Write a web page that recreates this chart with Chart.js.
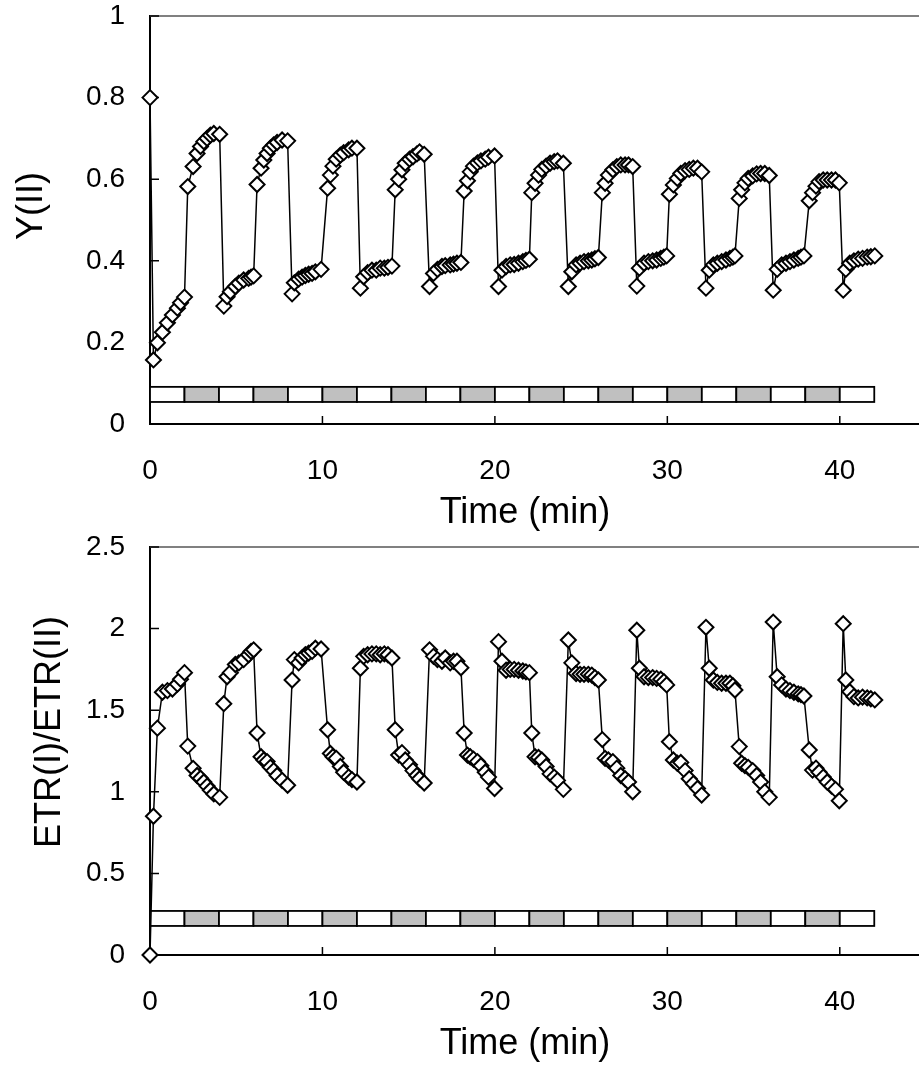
<!DOCTYPE html>
<html>
<head>
<meta charset="utf-8">
<script src="https://cdn.jsdelivr.net/npm/chart.js@4.4.1/dist/chart.umd.min.js"></script>
<style>
  html, body { margin: 0; padding: 0; background: #fff; overflow: hidden; }
  #wrap { position: relative; width: 919px; height: 1070px; overflow: hidden; }
  canvas { position: absolute; left: 0; }
  #yiiChart { top: 0; }
  #ratioChart { top: 533px; }
</style>
</head>
<body>
<div id="wrap">
  <canvas id="yiiChart" width="940" height="533"></canvas>
  <canvas id="ratioChart" width="940" height="537"></canvas>
</div>
<script>
// sampling times (min), one row per 2-min light period
const timeMin = [
  0, 0.2, 0.43, 0.72, 1.01, 1.3, 1.59, 1.77, 2.0,
  2.19, 2.5, 2.73, 2.93, 3.12, 3.31, 3.5, 3.7, 4.04,
  4.28, 4.47, 4.66, 4.95, 5.15, 5.43, 5.72, 5.86, 6.01,
  6.21, 6.44, 6.6, 6.79, 6.98, 7.17, 7.37, 7.66, 7.98,
  8.24, 8.37, 8.62, 8.82, 9.01, 9.2, 9.4, 9.59, 9.92,
  10.3, 10.46, 10.61, 10.8, 11.04, 11.23, 11.52, 11.71, 12.0,
  12.2, 12.39, 12.62, 12.87, 13.12, 13.35, 13.59, 13.8, 14.03,
  14.22, 14.42, 14.61, 14.8, 15.05, 15.25, 15.48, 15.63, 15.9,
  16.21, 16.44, 16.67, 16.93, 17.12, 17.41, 17.6, 17.8, 18.03,
  18.22, 18.41, 18.57, 18.76, 18.99, 19.19, 19.44, 19.63, 19.98,
  20.21, 20.41, 20.65, 20.89, 21.12, 21.37, 21.62, 21.8, 22.0,
  22.14, 22.33, 22.53, 22.72, 22.97, 23.2, 23.44, 23.63, 23.97,
  24.26, 24.46, 24.71, 24.94, 25.17, 25.42, 25.62, 25.8, 26.0,
  26.23, 26.39, 26.58, 26.84, 27.07, 27.3, 27.55, 27.75, 27.99,
  28.23, 28.38, 28.65, 28.9, 29.15, 29.38, 29.62, 29.8, 29.96,
  30.12, 30.35, 30.58, 30.78, 31.03, 31.27, 31.51, 31.75, 31.99,
  32.24, 32.43, 32.67, 32.9, 33.15, 33.4, 33.63, 33.8, 33.92,
  34.17, 34.31, 34.5, 34.69, 34.95, 35.18, 35.41, 35.65, 35.91,
  36.14, 36.37, 36.63, 36.88, 37.11, 37.34, 37.59, 37.75, 37.92,
  38.23, 38.42, 38.62, 38.8, 39.04, 39.27, 39.52, 39.75, 39.97,
  40.2, 40.35, 40.58, 40.82, 41.07, 41.32, 41.59, 41.8, 42.03
];

// effective quantum yield of PSII
const yII = [
  0.8, 0.157, 0.199, 0.225, 0.248, 0.267, 0.284, 0.297, 0.311,
  0.582, 0.631, 0.663, 0.68, 0.692, 0.70, 0.708, 0.712, 0.71,
  0.289, 0.312, 0.324, 0.337, 0.345, 0.353, 0.357, 0.36, 0.363,
  0.587, 0.627, 0.647, 0.663, 0.676, 0.684, 0.69, 0.696, 0.694,
  0.319, 0.346, 0.355, 0.36, 0.364, 0.367, 0.369, 0.373, 0.379,
  0.578, 0.61, 0.632, 0.649, 0.659, 0.665, 0.672, 0.676, 0.676,
  0.333, 0.361, 0.371, 0.377, 0.377, 0.382, 0.382, 0.384, 0.387,
  0.574, 0.6, 0.623, 0.639, 0.649, 0.655, 0.662, 0.667, 0.661,
  0.337, 0.369, 0.379, 0.386, 0.388, 0.39, 0.392, 0.394, 0.396,
  0.571, 0.596, 0.618, 0.632, 0.64, 0.645, 0.649, 0.654, 0.657,
  0.337, 0.377, 0.386, 0.39, 0.391, 0.394, 0.398, 0.401, 0.404,
  0.567, 0.59, 0.61, 0.624, 0.632, 0.639, 0.643, 0.645, 0.639,
  0.337, 0.373, 0.39, 0.394, 0.398, 0.4, 0.402, 0.405, 0.408,
  0.567, 0.59, 0.61, 0.623, 0.631, 0.635, 0.635, 0.635, 0.631,
  0.338, 0.382, 0.394, 0.398, 0.4, 0.402, 0.406, 0.409, 0.412,
  0.563, 0.586, 0.602, 0.614, 0.621, 0.624, 0.627, 0.627, 0.618,
  0.333, 0.377, 0.39, 0.394, 0.398, 0.402, 0.406, 0.409, 0.412,
  0.553, 0.574, 0.591, 0.602, 0.608, 0.613, 0.614, 0.614, 0.609,
  0.328, 0.379, 0.39, 0.394, 0.398, 0.402, 0.406, 0.409, 0.412,
  0.547, 0.567, 0.583, 0.594, 0.598, 0.598, 0.598, 0.598, 0.591,
  0.328, 0.379, 0.394, 0.4, 0.404, 0.406, 0.409, 0.41, 0.412
];

// ETR(I)/ETR(II) ratio
const etrRatio = [
  0, 0.85, 1.39, 1.61, 1.62, 1.63, 1.66, 1.69, 1.73,
  1.28, 1.144, 1.10, 1.083, 1.06, 1.035, 1.01, 0.987, 0.966,
  1.54, 1.705, 1.73, 1.78, 1.79, 1.81, 1.84, 1.86, 1.87,
  1.36, 1.215, 1.195, 1.185, 1.15, 1.13, 1.10, 1.07, 1.04,
  1.685, 1.81, 1.79, 1.82, 1.84, 1.85, 1.86, 1.88, 1.875,
  1.38, 1.235, 1.215, 1.205, 1.155, 1.12, 1.09, 1.075, 1.06,
  1.757, 1.83, 1.84, 1.845, 1.845, 1.84, 1.845, 1.84, 1.82,
  1.38, 1.225, 1.24, 1.195, 1.165, 1.13, 1.10, 1.08, 1.054,
  1.87, 1.83, 1.81, 1.80, 1.82, 1.79, 1.80, 1.80, 1.76,
  1.36, 1.225, 1.215, 1.20, 1.185, 1.16, 1.12, 1.09, 1.02,
  1.92, 1.80, 1.745, 1.75, 1.75, 1.745, 1.74, 1.735, 1.73,
  1.36, 1.215, 1.21, 1.195, 1.155, 1.11, 1.09, 1.07, 1.015,
  1.93, 1.79, 1.725, 1.72, 1.72, 1.72, 1.715, 1.70, 1.685,
  1.32, 1.205, 1.195, 1.185, 1.145, 1.10, 1.08, 1.06, 1.0,
  1.99, 1.757, 1.705, 1.70, 1.70, 1.695, 1.69, 1.675, 1.655,
  1.307, 1.195, 1.175, 1.18, 1.13, 1.08, 1.05, 1.02, 0.98,
  2.008, 1.757, 1.685, 1.67, 1.665, 1.665, 1.665, 1.65, 1.624,
  1.277, 1.175, 1.16, 1.15, 1.13, 1.10, 1.06, 1.00, 0.966,
  2.04, 1.705, 1.655, 1.63, 1.62, 1.61, 1.60, 1.595, 1.587,
  1.256, 1.133, 1.145, 1.12, 1.09, 1.06, 1.035, 1.015, 0.945,
  2.03, 1.685, 1.613, 1.583, 1.575, 1.58, 1.575, 1.57, 1.563
];

const timeTicks = [0, 10, 20, 30, 40];
const yIITicks = [0, 0.2, 0.4, 0.6, 0.8, 1];
const ratioTicks = [0, 0.5, 1, 1.5, 2, 2.5];

// light regime strip: 2-min periods, shaded ones in grey
const periodStart = [0, 2, 4, 6, 8, 10, 12, 14, 16, 18, 20, 22, 24, 26, 28, 30, 32, 34, 36, 38, 40];
const periodEnd = [2, 4, 6, 8, 10, 12, 14, 16, 18, 20, 22, 24, 26, 28, 30, 32, 34, 36, 38, 40, 42];
const periodShaded = [false, true, false, true, false, true, false, true, false, true, false,
                      true, false, true, false, true, false, true, false, true, false];

const FONT = '"Liberation Sans", Arial, sans-serif';

// strip of light periods drawn under the data
const lightStrip = {
  id: 'lightStrip',
  beforeDatasetsDraw(chart, args, opts) {
    const { ctx } = chart;
    const xs = chart.scales.x, ys = chart.scales.y;
    const top = ys.getPixelForValue(opts.high);
    const bottom = ys.getPixelForValue(opts.low);
    ctx.save();
    ctx.lineWidth = 1.8;
    ctx.strokeStyle = '#000';
    periodStart.forEach((s, i) => {
      const x0 = xs.getPixelForValue(s);
      const x1 = xs.getPixelForValue(periodEnd[i]);
      ctx.fillStyle = periodShaded[i] ? '#c0c0c0' : '#fff';
      ctx.fillRect(x0, top, x1 - x0, bottom - top);
      ctx.strokeRect(x0, top, x1 - x0, bottom - top);
    });
    ctx.restore();
  }
};

// grey top frame line and inward tick marks
const plotFrame = {
  id: 'plotFrame',
  beforeDatasetsDraw(chart) {
    const { ctx, chartArea } = chart;
    const xs = chart.scales.x, ys = chart.scales.y;
    ctx.save();
    ctx.strokeStyle = '#808080';
    ctx.lineWidth = 2;
    ctx.beginPath();
    ctx.moveTo(chartArea.left, chartArea.top);
    ctx.lineTo(chartArea.right + 20, chartArea.top);
    ctx.stroke();

    ctx.strokeStyle = '#000';
    ctx.lineWidth = 1.5;
    ctx.beginPath();
    xs.ticks.forEach(t => {
      const px = xs.getPixelForValue(t.value);
      ctx.moveTo(px, chartArea.bottom);
      ctx.lineTo(px, chartArea.bottom - 8);
    });
    ys.ticks.forEach(t => {
      const py = ys.getPixelForValue(t.value);
      ctx.moveTo(chartArea.left, py);
      ctx.lineTo(chartArea.left + 9, py);
    });
    ctx.stroke();
    ctx.restore();
  }
};

// axis titles
const axisTitles = {
  id: 'axisTitles',
  afterDraw(chart, args, opts) {
    const { ctx } = chart;
    ctx.save();
    ctx.fillStyle = '#000';
    ctx.font = '36px ' + FONT;
    ctx.textAlign = 'center';
    ctx.textBaseline = 'middle';
    ctx.fillText(opts.xText, opts.xAt[0], opts.xAt[1]);
    ctx.translate(opts.yAt[0], opts.yAt[1]);
    ctx.rotate(-Math.PI / 2);
    ctx.fillText(opts.yText, 0, 0);
    ctx.restore();
  }
};

function makeChart(id, values, yTicks, yMax, xHeight, padTop, strip, titles) {
  return new Chart(document.getElementById(id), {
    type: 'line',
    data: {
      datasets: [{
        data: timeMin.map((t, i) => ({ x: t, y: values[i] })),
        borderColor: '#000',
        borderWidth: 1.5,
        tension: 0,
        pointStyle: 'rectRot',
        pointRadius: 7.5,
        pointBorderWidth: 2,
        pointBackgroundColor: '#fff',
        pointBorderColor: '#000',
        clip: false
      }]
    },
    options: {
      responsive: false,
      animation: false,
      events: [],
      layout: { autoPadding: false, padding: { left: 0, top: padTop, right: 14, bottom: 0 } },
      plugins: {
        legend: { display: false },
        tooltip: { enabled: false },
        lightStrip: strip,
        axisTitles: titles
      },
      scales: {
        x: {
          type: 'linear',
          min: 0,
          max: 45,
          afterBuildTicks: s => { s.ticks = timeTicks.map(v => ({ value: v })); },
          afterFit: s => { s.height = xHeight; s.paddingLeft = 0; s.paddingRight = 0; },
          grid: { drawOnChartArea: false, drawTicks: false },
          border: { color: '#000', width: 2 },
          ticks: {
            padding: 33,
            color: '#000',
            maxRotation: 0,
            autoSkip: false,
            callback: v => String(v),
            font: { family: FONT, size: 28, lineHeight: 1 }
          }
        },
        y: {
          min: 0,
          max: yMax,
          afterBuildTicks: s => { s.ticks = yTicks.map(v => ({ value: v })); },
          afterFit: s => { s.width = 150; s.paddingTop = 0; s.paddingBottom = 0; },
          grid: { drawOnChartArea: false, drawTicks: false },
          border: { color: '#000', width: 2 },
          ticks: {
            padding: 25,
            color: '#000',
            callback: v => String(v),
            font: { family: FONT, size: 28, lineHeight: 1 }
          }
        }
      }
    },
    plugins: [plotFrame, lightStrip, axisTitles]
  });
}

makeChart('yiiChart', yII, yIITicks, 1, 109, 16,
  { low: 0.054, high: 0.091 },
  { xText: 'Time (min)', xAt: [525, 513], yText: 'Y(II)', yAt: [32, 206] });

makeChart('ratioChart', etrRatio, ratioTicks, 2.5, 115, 14,
  { low: 0.178, high: 0.27 },
  { xText: 'Time (min)', xAt: [525, 511], yText: 'ETR(I)/ETR(II)', yAt: [50, 199] });
</script>
</body>
</html>
